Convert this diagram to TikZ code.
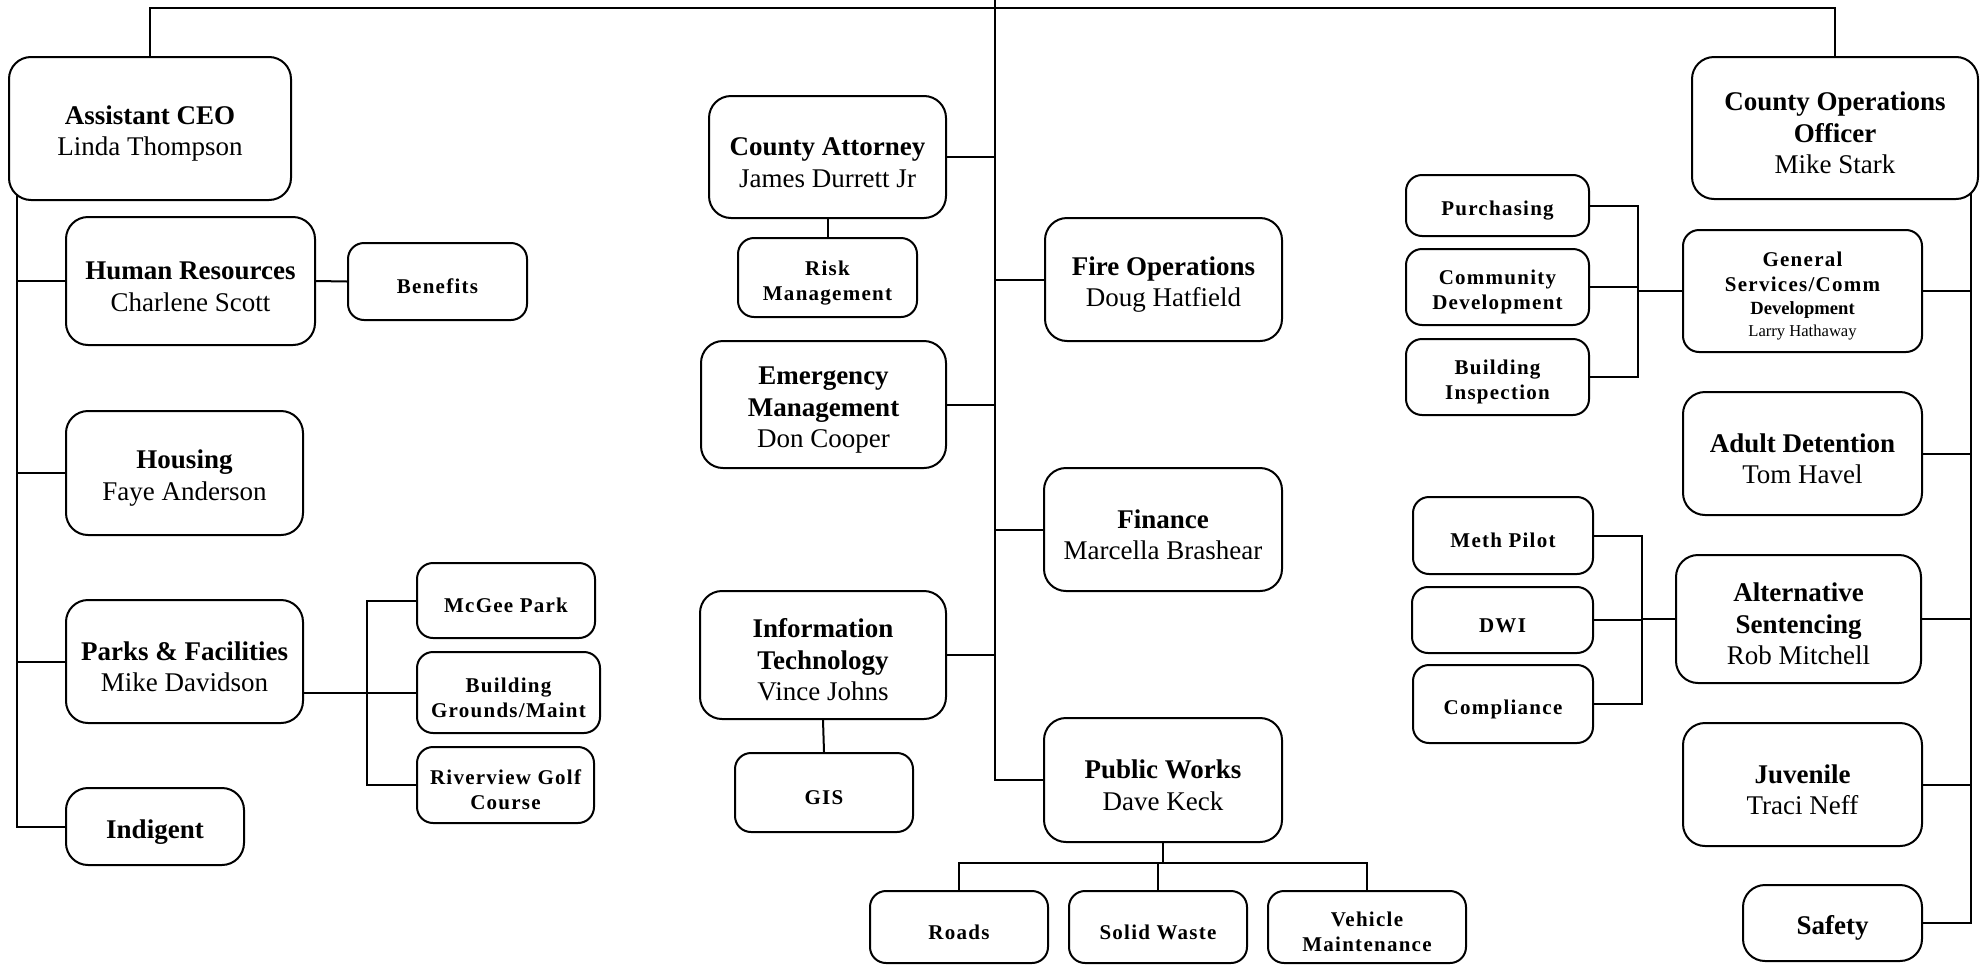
\documentclass[tikz,border=0pt]{standalone}
\usepackage{fontspec}
\setmainfont{Liberation Serif}
\newfontfamily\spacedfont[LetterSpace=6]{Liberation Serif}
\usetikzlibrary{calc}
\pgfdeclarelayer{bg}
\pgfsetlayers{bg,main}
\newcommand\bigf{\fontsize{13.5}{15.75}\selectfont}
\newcommand\smallf{\spacedfont\bfseries\fontsize{10.5}{12.5}\selectfont}
\newcommand\strutbig{\rule{0pt}{14.5pt}}
\newcommand\strutsml{\rule{0pt}{12.5pt}}
\begin{document}
\begin{tikzpicture}[x=0.5pt,y=-0.5pt,
  box/.style={draw, line width=1pt, fill=white, inner sep=0pt, align=center},
  sz/.style 2 args={minimum width=#1*0.5pt, minimum height=#2*0.5pt},
  big/.style={box, rounded corners=11pt, font=\bigf},
  small/.style={box, rounded corners=8pt, font=\smallf},
  conn/.style={line width=1pt}]
\useasboundingbox (0,0) rectangle (1986,964);

% left column
\node[big, sz={282}{143}] (aceo) at (150,128.5) {\strutbig\textbf{Assistant CEO}\\Linda Thompson};
\node[big, sz={249}{128}] (hr) at (190.5,281) {\strutbig\textbf{Human Resources}\\Charlene Scott};
\node[small, sz={179}{77}] (benefits) at (437.5,281.5) {\strutsml Benefits};
\node[big, sz={237}{124}] (housing) at (184.5,473) {\strutbig\textbf{Housing}\\Faye Anderson};
\node[big, sz={237}{123}] (parks) at (184.5,661.5) {\strutbig\textbf{Parks \& Facilities}\\Mike Davidson};
\node[small, sz={178}{75}] (mcgee) at (506,600.5) {\strutsml McGee Park};
\node[small, sz={183}{81}] (bgm) at (508.5,692.5) {\strutsml Building\\Grounds/Maint};
\node[small, sz={177}{76}] (riv) at (505.5,785) {\strutsml Riverview Golf\\Course};
\node[big, sz={178}{77}] (ind) at (155,826.5) {\strutbig\textbf{Indigent}};

% centre
\node[big, sz={237}{122}] (ca) at (827.5,157) {\strutbig\textbf{County Attorney}\\James Durrett Jr};
\node[small, sz={179}{79}] (risk) at (827.5,277.5) {\strutsml Risk\\Management};
\node[big, sz={237}{123}] (fire) at (1163.5,279.5) {\strutbig\textbf{Fire Operations}\\Doug Hatfield};
\node[big, sz={245}{127}] (em) at (823.5,404.5) {\strutbig\textbf{Emergency}\\\textbf{Management}\\Don Cooper};
\node[big, sz={238}{123}] (fin) at (1163,529.5) {\strutbig\textbf{Finance}\\Marcella Brashear};
\node[big, sz={246}{128}] (it) at (823,655) {\strutbig\textbf{Information}\\\textbf{Technology}\\Vince Johns};
\node[small, sz={178}{79}] (gis) at (824,792.5) {\strutsml GIS};
\node[big, sz={238}{124}] (pw) at (1163,780) {\strutbig\textbf{Public Works}\\Dave Keck};
\node[small, sz={178}{72}] (roads) at (959,927) {\strutsml Roads};
\node[small, sz={178}{72}] (sw) at (1158,927) {\strutsml Solid Waste};
\node[small, sz={198}{72}] (vm) at (1367,927) {\strutsml Vehicle\\Maintenance};

% right column
\node[big, sz={286}{142}] (coo) at (1835,128) {\strutbig\textbf{County Operations}\\\textbf{Officer}\\Mike Stark};
\node[small, sz={183}{61}] (pur) at (1497.5,205.5) {\strutsml Purchasing};
\node[small, sz={183}{76}] (cd) at (1497.5,287) {\strutsml Community\\Development};
\node[small, sz={183}{76}] (bi) at (1497.5,377) {\strutsml Building\\Inspection};
\node[small, sz={239}{122}] (gs) at (1802.5,291) {\strutsml General\\Services/Comm\\[-1pt]{\fontspec{Liberation Serif}\bfseries\fontsize{9.3}{11}\selectfont Development}\\[-1.5pt]{\fontspec{Liberation Serif}\mdseries\fontsize{8.3}{10}\selectfont Larry Hathaway}};
\node[big, sz={239}{123}] (ad) at (1802.5,453.5) {\strutbig\textbf{Adult Detention}\\Tom Havel};
\node[small, sz={180}{77}] (meth) at (1503,535.5) {\strutsml Meth Pilot};
\node[small, sz={181}{66}] (dwi) at (1502.5,620) {\strutsml DWI};
\node[small, sz={180}{78}] (comp) at (1503,704) {\strutsml Compliance};
\node[big, sz={245}{128}] (as) at (1798.5,619) {\strutbig\textbf{Alternative}\\\textbf{Sentencing}\\Rob Mitchell};
\node[big, sz={239}{123}] (juv) at (1802.5,784.5) {\strutbig\textbf{Juvenile}\\Traci Neff};
\node[big, sz={179}{76}] (safety) at (1832.5,923) {\strutbig\textbf{Safety}};

% bus coordinates
\coordinate (ceo) at (995,-4);
\coordinate (top) at (995,8);
\coordinate (lbus) at (17,0);
\coordinate (pbus) at (367,0);
\coordinate (pgbus) at (1638,0);
\coordinate (sbus) at (1642,0);
\coordinate (rbus) at (1971,0);
\coordinate (pwbus) at (0,863);

\begin{pgfonlayer}{bg}
\draw[conn] (aceo.center) -- (aceo.center |- top) -- (coo.center |- top) -- (coo.center);
\draw[conn] (ceo) -- (pw.west -| ceo) -- (pw.west);
\draw[conn] (ca.east) -- (ca.east -| ceo);
\draw[conn] (em.east) -- (em.east -| ceo);
\draw[conn] (it.east) -- (it.east -| ceo);
\draw[conn] (fire.west) -- (fire.west -| ceo);
\draw[conn] (fin.west) -- (fin.west -| ceo);
\draw[conn] (ca.south) -- (risk.north);
\draw[conn] (it.south) -- (gis.north);
% left
\draw[conn] (aceo.center -| lbus) -- (ind.west -| lbus) -- (ind.west);
\draw[conn] (hr.west -| lbus) -- (hr.west);
\draw[conn] (housing.west -| lbus) -- (housing.west);
\draw[conn] (parks.west -| lbus) -- (parks.west);
\draw[conn] (hr.east) -- (benefits.west);
\draw[conn] (parks.east |- bgm.west) -- (bgm.west);
\draw[conn] (mcgee.west) -- (mcgee.west -| pbus) -- (riv.west -| pbus) -- (riv.west);
% public works
\draw[conn] (pw.south) -- (pw.south |- pwbus);
\draw[conn] (roads.north) -- (roads.north |- pwbus) -- (vm.north |- pwbus) -- (vm.north);
\draw[conn] (sw.north) -- (sw.north |- pwbus);
% right
\draw[conn] (coo.center -| rbus) -- (safety.east -| rbus) -- (safety.east);
\draw[conn] (gs.east) -- (gs.east -| rbus);
\draw[conn] (ad.east) -- (ad.east -| rbus);
\draw[conn] (as.east) -- (as.east -| rbus);
\draw[conn] (juv.east) -- (juv.east -| rbus);
\draw[conn] (pur.east) -- (pur.east -| pgbus) -- (bi.east -| pgbus) -- (bi.east);
\draw[conn] (cd.east) -- (cd.east -| pgbus);
\draw[conn] (gs.west -| pgbus) -- (gs.west);
\draw[conn] (meth.east) -- (meth.east -| sbus) -- (comp.east -| sbus) -- (comp.east);
\draw[conn] (dwi.east) -- (dwi.east -| sbus);
\draw[conn] (as.west -| sbus) -- (as.west);
\end{pgfonlayer}
\end{tikzpicture}
\end{document}
